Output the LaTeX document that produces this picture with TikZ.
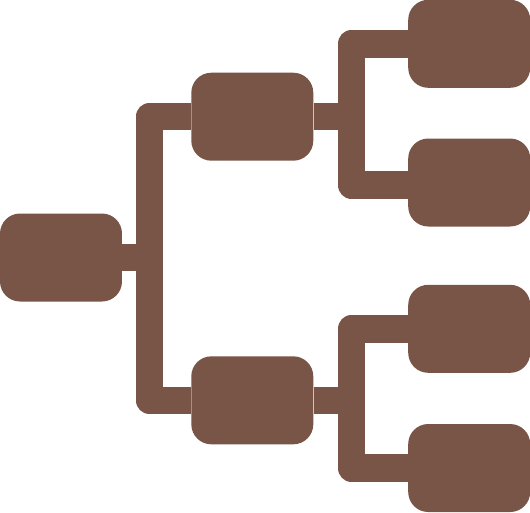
\documentclass[tikz,border=0pt]{standalone}
\usepackage{xcolor}
\usepackage{tikz}
\usetikzlibrary{positioning}
\definecolor{treebrown}{HTML}{795548}

\begin{document}
\begin{tikzpicture}[x=0.02cm, y=-0.02cm,
    box/.style={fill=treebrown, rounded corners=0.4cm, minimum width=2.44cm, minimum height=1.76cm, inner sep=0pt},
    link/.style={draw=treebrown, line width=0.55cm, line join=round}]
    \useasboundingbox (0,0) rectangle (530,512);
    \node[box] (root) at (61,257.5) {};
    \node[box] (up) at (252.3,116.7) {};
    \node[box] (down) at (252.3,400.3) {};
    \node[box] (up1) at (469.2,43.8) {};
    \node[box] (up2) at (469.2,182.5) {};
    \node[box] (down1) at (469.2,328.8) {};
    \node[box] (down2) at (469.2,468) {};
    \coordinate (j0) at (149.5,257.5);
    \coordinate (j1) at (351.3,114.5);
    \coordinate (j2) at (351.3,400);
    \draw[link] (root.east) -- (j0);
    \draw[link] (up.west) -| (j0) |- (down.west);
    \draw[link] (up.east) -- (up.east -| j1);
    \draw[link] (up1.west) -| (j1) |- ([yshift=-0.05cm]up2.west);
    \draw[link] (down.east) -- (down.east -| j2);
    \draw[link] (down1.west) -| (j2) |- (down2.west);
    \end{tikzpicture}
\end{document}
